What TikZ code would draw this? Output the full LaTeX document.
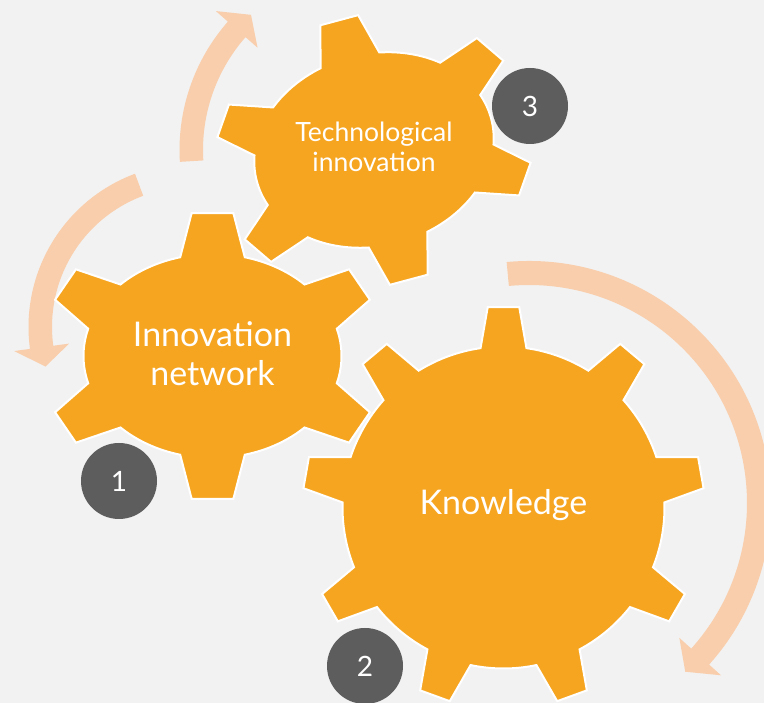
\documentclass[tikz,border=0pt]{standalone}
\usepackage{fontspec}
\setmainfont{Lato}
\definecolor{bg}{RGB}{242,242,242}
\definecolor{gearor}{RGB}{246,165,32}
\definecolor{peach}{RGB}{249,206,172}
\definecolor{darkg}{RGB}{93,93,93}
\tikzset{
  gearsty/.style={fill=gearor, draw=white, line width=2pt, line join=miter},
  arrowsty/.style={fill=peach},
  numcirc/.style={circle, fill=darkg, minimum size=76pt, inner sep=0pt, text=white, font=\fontsize{28}{28}\selectfont},
  geartext/.style={text=white, align=center}
}
% a b h n phi0 beta gamma
\newcommand{\gearshape}[7]{%
  \draw[gearsty] ({#1*cos(#5-#6)},{#2*sin(#5-#6)})
   \foreach \k in {1,...,#4}{
     -- ({(#1+#3)*cos(#5+(\k-1)*360/#4-#7)},{(#2+#3)*sin(#5+(\k-1)*360/#4-#7)})
     -- ({(#1+#3)*cos(#5+(\k-1)*360/#4+#7)},{(#2+#3)*sin(#5+(\k-1)*360/#4+#7)})
     -- ({#1*cos(#5+(\k-1)*360/#4+#6)},{#2*sin(#5+(\k-1)*360/#4+#6)})
     arc[start angle={#5+(\k-1)*360/#4+#6}, end angle={#5+\k*360/#4-#6}, x radius=#1, y radius=#2]
   } -- cycle;
}
% cx cy rin rout start base tip
\newcommand{\ringarrow}[7]{%
  \begin{scope}[shift={(#1,#2)}]
    \fill[arrowsty] (#5:#4) arc[start angle=#5, end angle=#6, radius=#4]
      -- (#6:{#4+16}) -- (#7:{(#3+#4)/2}) -- (#6:{#3-16}) -- (#6:#3)
      arc[start angle=#6, end angle=#5, radius=#3] -- cycle;
  \end{scope}
}
\begin{document}
\begin{tikzpicture}[x=1pt,y=1pt]
\fill[bg] (0,0) rectangle (764,703);
\useasboundingbox (0,0) rectangle (764,703);
\clip (0,0) rectangle (764,703);
\ringarrow{192}{376}{140}{163.5}{110.4}{187.7}{195.1}
\ringarrow{374}{553}{171}{194.5}{183.5}{138.7}{132.3}
\ringarrow{529}{200}{218}{242}{95.3}{-41.9}{-47.2}
\begin{scope}[shift={(212.5,347)}]
  \gearshape{129}{102}{42}{6}{30}{14.5}{7}
\end{scope}
\begin{scope}[shift={(374,553)},rotate=15,scale=0.94]
  \gearshape{129}{102}{42}{6}{30}{14.5}{7}
\end{scope}
\begin{scope}[shift={(503.5,195.5)}]
  \gearshape{161}{161}{40}{9}{90}{8.2}{4.5}
\end{scope}
\node[geartext, font=\fontsize{34}{39}\selectfont] (t1) at (212.5,349.5) {Innovation\\network};
\node[geartext, font=\fontsize{26.5}{30}\selectfont] (t3) at (374,556) {Technological\\innovation};
\node[geartext, font=\fontsize{34}{39}\selectfont, anchor=base] (t2) at (503.5,188) {Knowledge};
\node[numcirc] (c1) at (119,222) {1};
\node[numcirc] (c2) at (365,37) {2};
\node[numcirc] (c3) at (530,597) {3};
\end{tikzpicture}
\end{document}
